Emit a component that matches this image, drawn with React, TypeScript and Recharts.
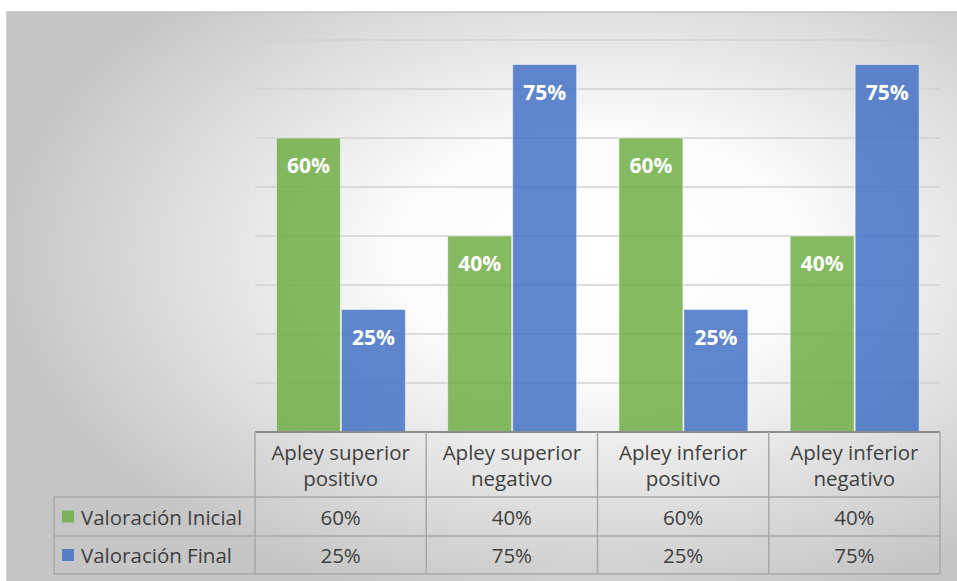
import { BarChart, Bar, XAxis, YAxis, CartesianGrid, LabelList } from "recharts";

const categories = [
  ["Apley superior", "positivo"],
  ["Apley superior", "negativo"],
  ["Apley inferior", "positivo"],
  ["Apley inferior", "negativo"],
];
const inicial = [0.6, 0.4, 0.6, 0.4];
const final = [0.25, 0.75, 0.25, 0.75];
const yTicks = [0, 0.1, 0.2, 0.3, 0.4, 0.5, 0.6, 0.7, 0.8];

const series = [
  { key: "inicial", name: "Valoración Inicial", color: "#70AD47", values: inicial },
  { key: "final", name: "Valoración Final", color: "#4472C4", values: final },
];

const data = categories.map((c, i) => ({
  cat: i,
  inicial: inicial[i],
  final: final[i],
}));

const W = 957;
const H = 581;
const PLOT_LEFT = 255;
const PLOT_RIGHT = 940;
const PLOT_TOP = 40;
const AXIS_Y = 432;
const COL_W = (PLOT_RIGHT - PLOT_LEFT) / categories.length;
const ROW1 = 497;
const ROW2 = 536;
const ROW_END = 574;
const LEGEND_LEFT = 54;
const FONT = "'Open Sans', Lato, sans-serif";
const TEXT = "#404040";
const LINE = "#a8a8a8";

const pct = (v: number) => `${Math.round(v * 100)}%`;

// one column of the data table under each category
function TableTick(props: any) {
  const { x, payload } = props;
  const i = payload.index ?? payload.value;
  const left = x - COL_W / 2;
  const right = x + COL_W / 2;
  const [l1, l2] = categories[i];
  return (
    <g fontFamily={FONT} fontSize={20.5} fill={TEXT}>
      <line x1={right} y1={AXIS_Y} x2={right} y2={ROW_END} stroke={LINE} strokeWidth={1.5} />
      {i === 0 && (
        <g>
          <line x1={left} y1={AXIS_Y} x2={left} y2={ROW_END} stroke={LINE} strokeWidth={1.5} />
          <line x1={LEGEND_LEFT} y1={ROW1} x2={left} y2={ROW1} stroke={LINE} strokeWidth={1.5} />
          <line x1={LEGEND_LEFT} y1={ROW2} x2={left} y2={ROW2} stroke={LINE} strokeWidth={1.5} />
          <line x1={LEGEND_LEFT} y1={ROW_END} x2={left} y2={ROW_END} stroke={LINE} strokeWidth={1.5} />
          <line x1={LEGEND_LEFT} y1={ROW1} x2={LEGEND_LEFT} y2={ROW_END} stroke={LINE} strokeWidth={1.5} />
          {series.map((s, r) => {
            const cy = r === 0 ? (ROW1 + ROW2) / 2 : (ROW2 + ROW_END) / 2;
            return (
              <g key={s.key}>
                <rect x={62} y={cy - 6} width={12} height={12} fill={s.color} fillOpacity={0.85} />
                <text x={81} y={cy} dominantBaseline="central" fill={TEXT}>
                  {s.name}
                </text>
              </g>
            );
          })}
        </g>
      )}
      <line x1={left} y1={ROW1} x2={right} y2={ROW1} stroke={LINE} strokeWidth={1.5} />
      <line x1={left} y1={ROW2} x2={right} y2={ROW2} stroke={LINE} strokeWidth={1.5} />
      <line x1={left} y1={ROW_END} x2={right} y2={ROW_END} stroke={LINE} strokeWidth={1.5} />
      <text x={x} y={452} textAnchor="middle" dominantBaseline="central" fill={TEXT}>
        {l1}
      </text>
      <text x={x} y={478} textAnchor="middle" dominantBaseline="central" fill={TEXT}>
        {l2}
      </text>
      <text x={x} y={(ROW1 + ROW2) / 2} textAnchor="middle" dominantBaseline="central" fill={TEXT}>
        {pct(inicial[i])}
      </text>
      <text x={x} y={(ROW2 + ROW_END) / 2} textAnchor="middle" dominantBaseline="central" fill={TEXT}>
        {pct(final[i])}
      </text>
    </g>
  );
}

function BarLabel(props: any) {
  const { x, y, width, value } = props;
  return (
    <text
      x={x + width / 2}
      y={y + 27}
      textAnchor="middle"
      dominantBaseline="central"
      fill="#ffffff"
      fontFamily={FONT}
      fontWeight={700}
      fontSize={21}
    >
      {pct(value)}
    </text>
  );
}

export default function App() {
  return (
    <div style={{ position: "absolute", left: 0, top: 0, width: W, height: H, background: "#fff" }}>
      <svg width={W} height={H} style={{ position: "absolute", left: 0, top: 0 }}>
        <defs>
          <radialGradient id="bgGrad" cx="0.62" cy="0.42" r="0.62" gradientUnits="objectBoundingBox">
            <stop offset="0" stopColor="#ffffff" />
            <stop offset="0.35" stopColor="#fbfbfb" />
            <stop offset="1" stopColor="#c6c6c6" />
          </radialGradient>
        </defs>
        <rect x={7} y={12} width={W} height={H} fill="url(#bgGrad)" stroke="#c4c4c4" strokeWidth={1.5} />
      </svg>
      <div style={{ position: "absolute", left: 0, top: 0 }}>
        <BarChart
          width={W}
          height={H}
          data={data}
          margin={{ top: PLOT_TOP, right: W - PLOT_RIGHT, bottom: 7, left: PLOT_LEFT }}
          barGap={1}
          barCategoryGap="12.5%"
        >
          <CartesianGrid vertical={false} stroke="#d2d2d2" strokeWidth={1.5} />
          <YAxis hide domain={[0, 0.8]} ticks={yTicks} />
          <XAxis
            dataKey="cat"
            height={ROW_END - AXIS_Y}
            axisLine={{ stroke: "#8c8c8c", strokeWidth: 2 }}
            tickLine={false}
            tick={<TableTick />}
            interval={0}
          />
          {series.map((s) => (
            <Bar
              key={s.key}
              dataKey={s.key}
              name={s.name}
              fill={s.color}
              fillOpacity={0.85}
              stroke="#ffffff"
              strokeOpacity={0.5}
              strokeWidth={1}
              isAnimationActive={false}
            >
              <LabelList dataKey={s.key} content={<BarLabel />} />
            </Bar>
          ))}
        </BarChart>
      </div>
    </div>
  );
}
